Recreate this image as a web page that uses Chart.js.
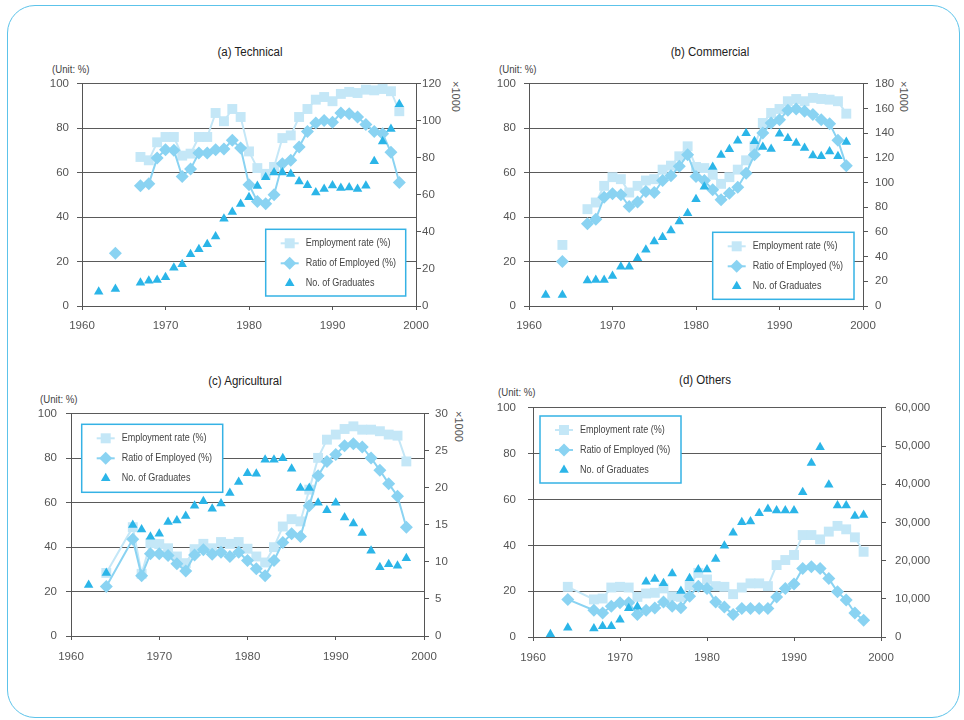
<!DOCTYPE html>
<html>
<head>
<meta charset="utf-8">
<script src="https://cdn.jsdelivr.net/npm/chart.js@4.4.1/dist/chart.umd.min.js"></script>
<style>
body { margin: 0; width: 964px; height: 720px; background: #fff; position: relative; overflow: hidden;
  font-family: 'Liberation Sans', sans-serif; color: #333; }
#frame { position: absolute; left: 7px; top: 5px; width: 951px; height: 711px; border: 1px solid #5cc3ea; border-radius: 28px; }
canvas { position: absolute; }
.t { position: absolute; white-space: nowrap; line-height: 1; }
.title { font-size: 12.5px; transform: translateX(-50%) scaleX(0.92); color: #222; }
.unit { font-size: 10.5px; color: #444; transform-origin: 0 0; transform: scaleX(0.92); }
.k { font-size: 11px; color: #555; transform-origin: 0 0; transform: rotate(90deg); }
</style>
</head>
<body>
<div id="frame"></div>

<div class="t title" style="left:250px;top:46px">(a) Technical</div>
<div class="t title" style="left:710px;top:46px">(b) Commercial</div>
<div class="t title" style="left:245px;top:375px">(c) Agricultural</div>
<div class="t title" style="left:705px;top:374px">(d) Others</div>

<div class="t unit" style="left:52px;top:64px">(Unit: %)</div>
<div class="t unit" style="left:499px;top:64px">(Unit: %)</div>
<div class="t unit" style="left:40px;top:394px">(Unit: %)</div>
<div class="t unit" style="left:498px;top:387px">(Unit: %)</div>

<div class="t k" style="left:461px;top:81px">×1000</div>
<div class="t k" style="left:909px;top:81px">×1000</div>
<div class="t k" style="left:464px;top:411px">×1000</div>

<canvas id="ca"></canvas>
<canvas id="cb"></canvas>
<canvas id="cc"></canvas>
<canvas id="cd"></canvas>

<script>
// years on the x axis (shared by all four panels)
const YEARS = [1962, 1964,
  1967, 1968, 1969, 1970, 1971, 1972, 1973, 1974, 1975, 1976,
  1977, 1978, 1979, 1980, 1981, 1982, 1983, 1984, 1985, 1986,
  1987, 1988, 1989, 1990, 1991, 1992, 1993, 1994, 1995, 1996,
  1997, 1998];

const LABELS = ['Employment rate (%)', 'Ratio of Employed (%)', 'No. of Graduates'];

// (a) Technical
const techRate = [null, null,
  67.1, 65.6, 73.7, 76.1, 76.1, 67.7, 68.6, 76.1, 76.1, 86.9,
  83.2, 88.7, 85.1, 69.6, 62.1, 59.5, 62.6, 75.6, 76.8, 85.1,
  88.7, 92.9, 94.1, 92.2, 95.5, 96.4, 95.9, 97.4, 97.1, 97.7,
  96.7, 87.7];
const techRatio = [null, 23.8,
  54.1, 55, 66.6, 70.4, 70.1, 58.3, 61.7, 68.9, 68.9, 70.4,
  70.7, 74.6, 71.1, 54.6, 47.1, 46, 50.1, 64, 65.6, 71.6,
  78.6, 82.4, 83.5, 82.7, 86.9, 86.6, 85.1, 81.7, 78.6, 77.6,
  69.2, 55.6];
const techGrad = [7.7, 9.2,
  12.6, 13.7, 14.1, 15.5, 20.7, 22.5, 27.9, 30.6, 33.3, 37.5,
  47.2, 50.8, 55.1, 58.7, 64.9, 69.6, 72.1, 72.1, 71.3, 67.3,
  65.3, 61.3, 63.2, 65.1, 63.7, 64, 63.2, 65, 78.2, 88.9,
  95.6, 109];

// (b) Commercial
const comRate = [null, 27.5,
  43.6, 46.6, 54.1, 58, 57.1, 51.1, 54.1, 56.5, 57.1, 61.4,
  63.2, 67.4, 71.9, 62.6, 62.1, 59.1, 55, 58, 61.4, 65.6,
  71.9, 82.4, 86.9, 88.7, 92.2, 93.2, 92.2, 93.7, 93.2, 92.9,
  92.2, 86.6];
const comRatio = [null, 20,
  37, 39.1, 49, 50.5, 50.1, 44.8, 46.8, 51.6, 51.1, 56.5,
  58.6, 62.9, 68.1, 58.3, 56.5, 52.3, 47.8, 50.8, 53.5, 59.8,
  68.1, 77.9, 82.4, 83.9, 88.1, 88.7, 87.7, 86.2, 83.9, 82.1,
  74.6, 63.2];
const comGrad = [8.9, 8.9,
  20.6, 21.1, 21.1, 24.4, 31.9, 31.9, 38.7, 45.5, 52.2, 55.8,
  61.2, 68.5, 75.2, 86.6, 96.6, 112.6, 122.3, 127, 134, 140,
  133.5, 128.9, 127.2, 139.7, 135.9, 132.1, 128, 122, 121.3, 125.3,
  121.3, 132.9];

// (c) Agricultural
const agrRate = [null, 28.4,
  49, 28, 41.8, 41.4, 39.5, 35.8, 32.8, 39.1, 41.5, 39.5,
  42.3, 41.5, 42.3, 39.3, 35.8, 33.1, 40, 49.3, 52.6, 51.6,
  65.9, 80.2, 88.4, 90.7, 93.2, 94.4, 92.9, 92.9, 92.2, 90.7,
  90.2, 78.6];
const agrRatio = [null, 22.3,
  43.6, 27.1, 37, 37, 36.2, 32.5, 29.3, 36.5, 38.8, 36.8,
  37.7, 35.8, 37.7, 34, 30.3, 27.1, 34, 42.1, 46, 44.8,
  58.6, 72.2, 78.6, 81.7, 85.7, 86.6, 85.1, 80.2, 74.6, 68.6,
  62.9, 49];
const agrGrad = [6.9, 8.5,
  15, 14.4, 13.4, 13.8, 15.4, 15.6, 16.2, 17.6, 18.2, 17.2,
  17.9, 19.3, 20.8, 22, 21.9, 23.8, 23.8, 24, 22.6, 20,
  20, 18, 17, 18, 16, 15.2, 13.9, 11.5, 9.3, 9.7,
  9.5, 10.5];

// (d) Others
const othRate = [null, 21.9,
  16.4, 16.8, 21.6, 21.9, 21.6, 17.5, 19, 19.3, 21.2, 17.8,
  17.5, 22.6, 28, 25.1, 22.2, 21.9, 18.7, 21.6, 23.4, 23.4,
  22.2, 31.4, 33.6, 35.8, 44.5, 44.5, 42.6, 46, 48.5, 47,
  43.5, 37.2];
const othRatio = [null, 16.4,
  11.7, 10.5, 13.4, 14.9, 14.9, 9.8, 11.7, 12.7, 15.3, 13.4,
  12.8, 17.8, 22.2, 21.2, 15.3, 13.1, 9.8, 12.4, 12.4, 12.4,
  12.4, 17.5, 21.2, 23.1, 29.9, 30.7, 29.9, 25.5, 19.7, 16.1,
  10.5, 7.3];
const othGrad = [700, 2450,
  2200, 2800, 2800, 4500, 7500, 7900, 14450, 15200, 14100, 16640,
  12050, 15400, 17700, 17700, 20400, 23900, 27330, 30050, 30220, 32400,
  33550, 33100, 33100, 33100, 37900, 45550, 49670, 39860, 34430, 34430,
  31700, 31970];

const COL_RATE = '#c4e7f7', COL_RATIO = '#8ad3f2', COL_GRAD = '#2bb5e8';

Chart.defaults.font.family = "'Liberation Sans', sans-serif";
Chart.defaults.font.size = 11.5;
Chart.defaults.color = '#555';

function pts(vals) {
  return YEARS.map((yr, i) => ({ x: yr, y: vals[i] }));
}

function marker(ctx, style, x, y, color) {
  ctx.fillStyle = color;
  ctx.beginPath();
  if (style === 'rect') {
    ctx.rect(x - 5, y - 5, 10, 10);
  } else if (style === 'rectRot') {
    ctx.moveTo(x, y - 6.5); ctx.lineTo(x + 6.5, y); ctx.lineTo(x, y + 6.5); ctx.lineTo(x - 6.5, y);
  } else {
    ctx.moveTo(x, y - 5.5); ctx.lineTo(x + 4.8, y + 2.8); ctx.lineTo(x - 4.8, y + 2.8);
  }
  ctx.closePath();
  ctx.fill();
}

// boxed legend drawn inside the plot, like the original
const boxLegend = {
  id: 'boxLegend',
  afterDraw(chart, args, opts) {
    const ctx = chart.ctx, b = opts.box;
    ctx.save();
    ctx.fillStyle = '#fff';
    ctx.fillRect(b.x, b.y, b.w, b.h);
    ctx.strokeStyle = '#35b2e5';
    ctx.lineWidth = 1.5;
    ctx.strokeRect(b.x, b.y, b.w, b.h);
    ctx.font = "11px 'Liberation Sans', sans-serif";
    ctx.textBaseline = 'middle';
    chart.data.datasets.forEach((ds, i) => {
      const cy = b.y + 14 + i * 20, cx = b.x + 24;
      if (ds.showLine !== false) {
        ctx.strokeStyle = ds.borderColor;
        ctx.lineWidth = 2;
        ctx.beginPath(); ctx.moveTo(cx - 9, cy); ctx.lineTo(cx + 9, cy); ctx.stroke();
      }
      marker(ctx, ds.pointStyle, cx, cy, ds.backgroundColor);
      ctx.save();
      ctx.translate(b.x + 40, cy);
      ctx.scale(0.82, 1);
      ctx.fillStyle = '#444';
      ctx.fillText(ds.label, 0, 0);
      ctx.restore();
    });
    ctx.restore();
  }
};

function makePanel(o) {
  const cv = document.getElementById(o.id);
  cv.width = o.w; cv.height = o.h;
  cv.style.left = o.left + 'px';
  cv.style.top = o.top + 'px';
  const gap = c => (o.cut && c.p1.parsed.x - c.p0.parsed.x > 2) ? 'rgba(0,0,0,0)' : undefined;
  return new Chart(cv, {
    type: 'line',
    data: {
      datasets: [
        { label: LABELS[0], data: pts(o.rate), yAxisID: 'y', borderColor: COL_RATE, backgroundColor: COL_RATE,
          borderWidth: 2, pointStyle: 'rect', pointRadius: 7, pointBorderWidth: 0, order: 3, segment: { borderColor: gap } },
        { label: LABELS[1], data: pts(o.ratio), yAxisID: 'y', borderColor: COL_RATIO, backgroundColor: COL_RATIO,
          borderWidth: 2, pointStyle: 'rectRot', pointRadius: 6.5, pointBorderWidth: 0, order: 2, segment: { borderColor: gap } },
        { label: LABELS[2], data: pts(o.grad), yAxisID: 'y2', showLine: false, borderColor: COL_GRAD, backgroundColor: COL_GRAD,
          pointStyle: 'triangle', pointRadius: 5.5, pointBorderWidth: 0, order: 1 }
      ]
    },
    options: {
      responsive: false,
      animation: false,
      events: [],
      layout: { padding: 0 },
      plugins: { legend: { display: false }, tooltip: { enabled: false }, boxLegend: { box: o.legend } },
      scales: {
        x: {
          type: 'linear', min: 1960, max: 2000,
          ticks: { stepSize: 10, padding: o.xPad, callback: v => String(v) },
          grid: { drawOnChartArea: false, tickLength: 4, color: '#555' },
          border: { color: '#555' },
          afterFit: s => { s.height = o.xH; }
        },
        y: {
          position: 'left', min: 0, max: 100,
          ticks: { stepSize: 20, padding: o.yPad },
          grid: { color: '#5a5a5a', tickLength: 5 },
          border: { color: '#555' },
          afterFit: s => { s.width = o.yW; }
        },
        y2: {
          position: 'right', min: 0, max: o.rMax,
          ticks: { stepSize: o.rStep, padding: o.rPad, callback: v => v.toLocaleString('en-US') },
          grid: { drawOnChartArea: false, tickLength: 5, color: '#555' },
          border: { color: '#555' },
          afterFit: s => { s.width = o.rW; }
        }
      }
    },
    plugins: [boxLegend]
  });
}

// canvas top = plot top - (half label height + largest tick padding)
makePanel({ id: 'ca', left: 30, top: 69, w: 440, h: 268, yW: 52, rW: 54, xH: 31, xPad: 9, yPad: 8, rPad: 1,
  rMax: 120, rStep: 20, legend: { x: 235.7, y: 160.3, w: 140, h: 66.7 }, cut: true,
  rate: techRate, ratio: techRatio, grad: techGrad });
makePanel({ id: 'cb', left: 480, top: 69, w: 440, h: 268, yW: 49, rW: 57, xH: 31, xPad: 9, yPad: 8, rPad: 7,
  rMax: 180, rStep: 20, legend: { x: 232.7, y: 163.3, w: 141.3, h: 67 }, cut: true,
  rate: comRate, ratio: comRatio, grad: comGrad });
makePanel({ id: 'cc', left: 20, top: 398, w: 460, h: 272, yW: 51, rW: 56, xH: 34, xPad: 10, yPad: 9, rPad: 6,
  rMax: 30, rStep: 5, legend: { x: 61.7, y: 26.3, w: 141, h: 68 }, cut: false,
  rate: agrRate, ratio: agrRatio, grad: agrGrad });
makePanel({ id: 'cd', left: 480, top: 389, w: 470, h: 279, yW: 53, rW: 69, xH: 31, xPad: 10, yPad: 12, rPad: 9,
  rMax: 60000, rStep: 10000, legend: { x: 60, y: 27, w: 141, h: 67 }, cut: false,
  rate: othRate, ratio: othRatio, grad: othGrad });
</script>
</body>
</html>
